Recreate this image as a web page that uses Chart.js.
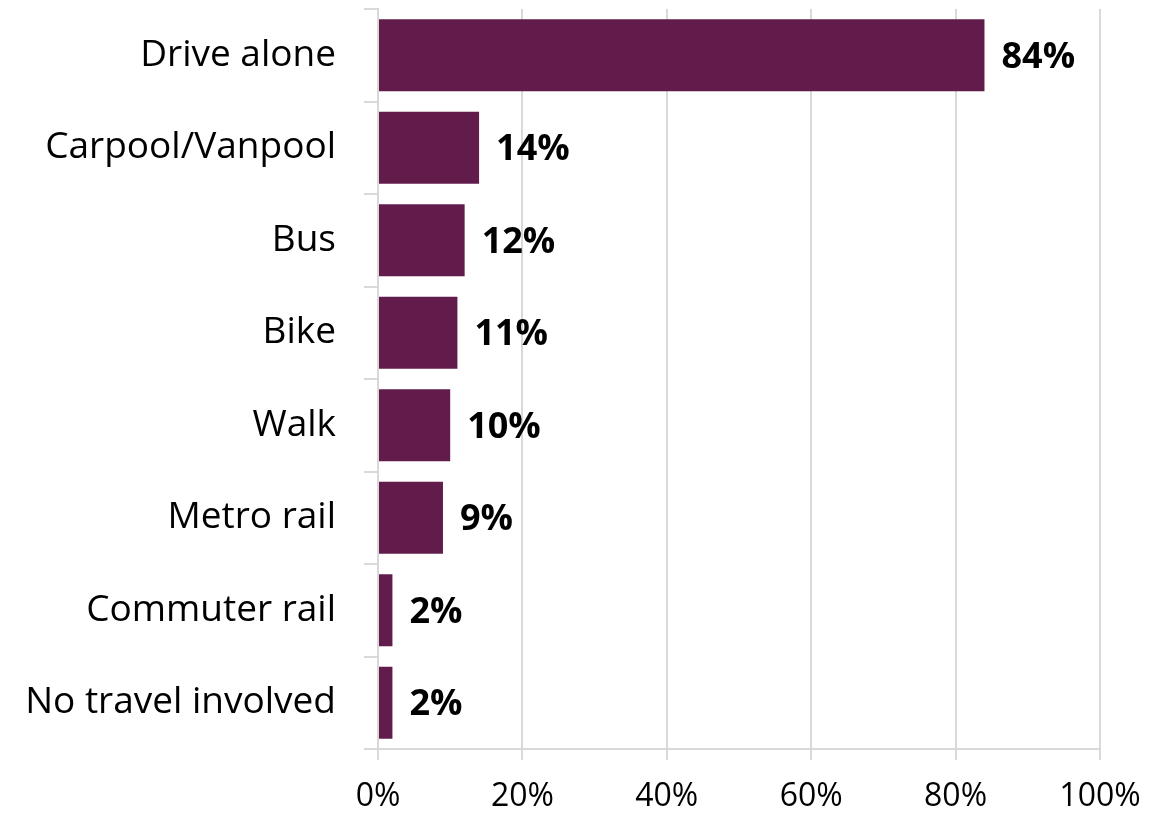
<!DOCTYPE html>
<html>
<head>
<meta charset="utf-8">
<script src="https://cdn.jsdelivr.net/npm/chart.js@4.4.0/dist/chart.umd.min.js"></script>
<style>
  body { margin: 0; background: #fff; }
  #wrap { width: 1174px; height: 814px; }
</style>
</head>
<body>
<div id="wrap"><canvas id="modeChart" width="1174" height="814"></canvas></div>
<script>
// Commute modes and share of respondents (%)
var modes = ['Drive alone', 'Carpool/Vanpool', 'Bus', 'Bike', 'Walk', 'Metro rail', 'Commuter rail', 'No travel involved'];
var shares = [84, 14, 12, 11, 10, 9, 2, 2];
var xTicks = [0, 20, 40, 60, 80, 100];

var FONT = 'Open Sans';

// Draw the bold value labels to the right of each bar
var valueLabels = {
    id: 'valueLabels',
    afterDatasetsDraw: function(chart) {
        var ctx = chart.ctx;
        var meta = chart.getDatasetMeta(0);
        ctx.save();
        ctx.font = 'bold 36px "' + FONT + '"';
        ctx.fillStyle = '#000';
        ctx.textAlign = 'left';
        ctx.textBaseline = 'middle';
        meta.data.forEach(function(bar, i) {
            ctx.fillText(shares[i] + '%', bar.x + 17, bar.y + 2);
        });
        ctx.restore();
    }
};

var ctx = document.getElementById('modeChart').getContext('2d');

var modeChart = new Chart(ctx, {
    type: 'bar',
    data: {
        labels: modes,
        datasets: [{
            data: shares,
            backgroundColor: '#621C4B',
            borderWidth: 0,
            barPercentage: 0.78,
            categoryPercentage: 1
        }]
    },
    options: {
        indexAxis: 'y',
        responsive: false,
        animation: false,
        layout: { padding: { top: 9, right: 74, left: 0, bottom: 0 } },
        plugins: {
            legend: { display: false },
            tooltip: { enabled: false }
        },
        scales: {
            x: {
                min: 0,
                max: 100,
                afterBuildTicks: function(scale) {
                    scale.ticks = xTicks.map(function(v) { return { value: v }; });
                },
                afterFit: function(scale) {
                    scale.height = 65;
                    scale.paddingLeft = 0;
                    scale.paddingRight = 0;
                },
                grid: { color: '#d9d9d9', lineWidth: 2, tickLength: 11 },
                border: { color: '#d9d9d9', width: 2 },
                ticks: {
                    color: '#000',
                    font: { family: FONT, size: 32 },
                    padding: 18,
                    callback: function(v) { return v + '%'; }
                }
            },
            y: {
                afterFit: function(scale) {
                    scale.width = 378;
                    scale.paddingTop = 0;
                    scale.paddingBottom = 0;
                },
                grid: { offset: true, drawOnChartArea: false, color: '#d9d9d9', lineWidth: 2, tickLength: 14 },
                border: { color: '#d9d9d9', width: 2 },
                ticks: {
                    color: '#000',
                    font: { family: FONT, size: 37 },
                    padding: 28
                }
            }
        }
    },
    plugins: [valueLabels]
});
</script>
</body>
</html>
